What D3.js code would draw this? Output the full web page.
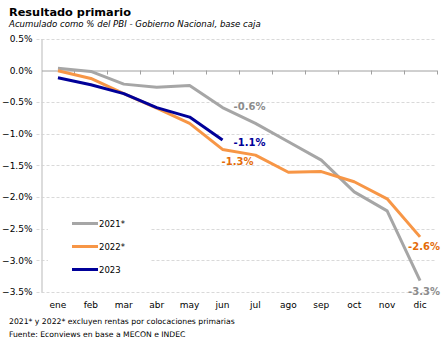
<!DOCTYPE html>
<html>
<head>
<meta charset="utf-8">
<script src="https://cdn.jsdelivr.net/npm/d3@7"></script>
<style>
  body { margin: 0; background: #fff; }
  svg { font-family: "DejaVu Sans", Verdana, sans-serif; }
</style>
</head>
<body>
<div id="content"></div>
<script>
var months = ["ene", "feb", "mar", "abr", "may", "jun", "jul", "ago", "sep", "oct", "nov", "dic"];

var serie2021 = [0.03, -0.02, -0.22, -0.27, -0.24, -0.59, -0.84, -1.13, -1.42, -1.92, -2.22, -3.32];
var serie2022 = [-0.01, -0.13, -0.37, -0.60, -0.84, -1.25, -1.34, -1.61, -1.60, -1.76, -2.03, -2.63];
var serie2023 = [-0.12, -0.23, -0.37, -0.59, -0.74, -1.10];

var yTicks = [0.5, 0, -0.5, -1, -1.5, -2, -2.5, -3, -3.5];

var series = [
	{ name: "2021*", values: serie2021, color: "#a6a6a6", labelColor: "#8c8c8c", label: "-0.6%", labelAt: 5, dx: 11, dy: 2 },
	{ name: "2022*", values: serie2022, color: "#f79646", labelColor: "#e46c0a", label: "-1.3%", labelAt: 5, dx: -1, dy: 16 },
	{ name: "2023", values: serie2023, color: "#000099", labelColor: "#000099", label: "-1.1%", labelAt: 5, dx: 11, dy: 6 }
];

// end-of-year labels
var endLabels = [
	{ values: serie2021, color: "#8c8c8c", text: "-3.3%", dy: 14 },
	{ values: serie2022, color: "#e46c0a", text: "-2.6%", dy: 13 }
];

var W = 443, H = 341;
var plotL = 41.5, plotR = 436.5, plotT = 38.5, plotB = 292;

var svg = d3.select("#content").append("svg")
	.attr("width", W).attr("height", H);

var x = d3.scaleBand().domain(months).range([plotL, plotR]);
var y = d3.scaleLinear().domain([-3.5, 0.5]).range([plotB, plotT]);
var xc = function (i) { return x(months[i]) + x.bandwidth() / 2; };

// titles
svg.append("text").attr("x", 9).attr("y", 16)
	.style("font-size", "11.3px").style("font-weight", "bold")
	.text("Resultado primario");
svg.append("text").attr("x", 9).attr("y", 27)
	.style("font-size", "8.6px").style("font-style", "italic")
	.text("Acumulado como % del PBI - Gobierno Nacional, base caja");

// gridlines
svg.append("g").selectAll("line").data(yTicks.filter(function (d) { return d != 0; }))
	.enter().append("line")
	.attr("x1", plotL - 5).attr("x2", plotR)
	.attr("y1", function (d) { return Math.round(y(d)) + 0.5; })
	.attr("y2", function (d) { return Math.round(y(d)) + 0.5; })
	.attr("stroke", "#d9d9d9").attr("stroke-dasharray", "3,2");

// y axis
var yAxis = d3.axisLeft(y).tickValues(yTicks).tickSize(0).tickPadding(9)
	.tickFormat(function (d) { return d3.format(".1f")(d) + "%"; });
var gy = svg.append("g").attr("transform", "translate(" + plotL + ",0)").call(yAxis);
gy.select(".domain").attr("stroke", "#d0d0d0").attr("stroke-width", 1.5);
gy.selectAll("text").style("font-size", "9px").attr("fill", "#000")
	.style("font-family", "'DejaVu Sans', Verdana, sans-serif");

// zero line with category ticks
var xAxis = d3.axisBottom(x).tickSize(0).tickFormat("");
var gz = svg.append("g").attr("transform", "translate(0," + (Math.round(y(0)) + 0.5) + ")").call(xAxis);
gz.select(".domain").attr("stroke", "#a0a0a0").attr("stroke-width", 1);
gz.selectAll(".tick").remove();
gz.selectAll(".sep").data(months.slice(1).concat(["end"]))
	.enter().append("line")
	.attr("x1", function (d, i) { return Math.round(plotL + (i + 1) * x.step()) + 0.5; })
	.attr("x2", function (d, i) { return Math.round(plotL + (i + 1) * x.step()) + 0.5; })
	.attr("y1", 0).attr("y2", 4)
	.attr("stroke", "#a0a0a0");

// month labels
svg.append("g").selectAll("text").data(months)
	.enter().append("text")
	.attr("x", function (d, i) { return xc(i); })
	.attr("y", 308)
	.attr("text-anchor", "middle")
	.style("font-size", "9px")
	.text(function (d) { return d; });

// legend box
svg.append("rect").attr("x", 48).attr("y", 205).attr("width", 102).attr("height", 80)
	.attr("fill", "#fff");

var line = d3.line()
	.x(function (d, i) { return xc(i); })
	.y(function (d) { return y(d); });

svg.append("g").selectAll("path").data(series)
	.enter().append("path")
	.attr("d", function (d) { return line(d.values); })
	.attr("fill", "none")
	.attr("stroke", function (d) { return d.color; })
	.attr("stroke-width", 3)
	.attr("stroke-linejoin", "round");

// june labels
svg.append("g").selectAll("text").data(series)
	.enter().append("text")
	.attr("x", function (d) { return xc(d.labelAt) + d.dx; })
	.attr("y", function (d) { return y(d.values[d.labelAt]) + d.dy; })
	.attr("fill", function (d) { return d.labelColor; })
	.style("font-size", "10px").style("font-weight", "bold")
	.text(function (d) { return d.label; });

svg.append("g").selectAll("text").data(endLabels)
	.enter().append("text")
	.attr("x", xc(11) - 12)
	.attr("y", function (d) { return y(d.values[11]) + d.dy; })
	.attr("fill", function (d) { return d.color; })
	.style("font-size", "10px").style("font-weight", "bold")
	.text(function (d) { return d.text; });

// legend
var leg = svg.append("g").selectAll("g").data(series)
	.enter().append("g")
	.attr("transform", function (d, i) { return "translate(72," + (223.5 + i * 23) + ")"; });
leg.append("line").attr("x1", 0).attr("x2", 26)
	.attr("stroke", function (d) { return d.color; }).attr("stroke-width", 3);
leg.append("text").attr("x", 27).attr("y", 3.5)
	.style("font-size", "8.5px")
	.text(function (d) { return d.name; });

// notes
svg.append("text").attr("x", 9).attr("y", 324).style("font-size", "7.7px")
	.text("2021* y 2022* excluyen rentas por colocaciones primarias");
svg.append("text").attr("x", 9).attr("y", 337).style("font-size", "7.7px")
	.text("Fuente: Econviews en base a MECON e INDEC");
</script>
</body>
</html>
